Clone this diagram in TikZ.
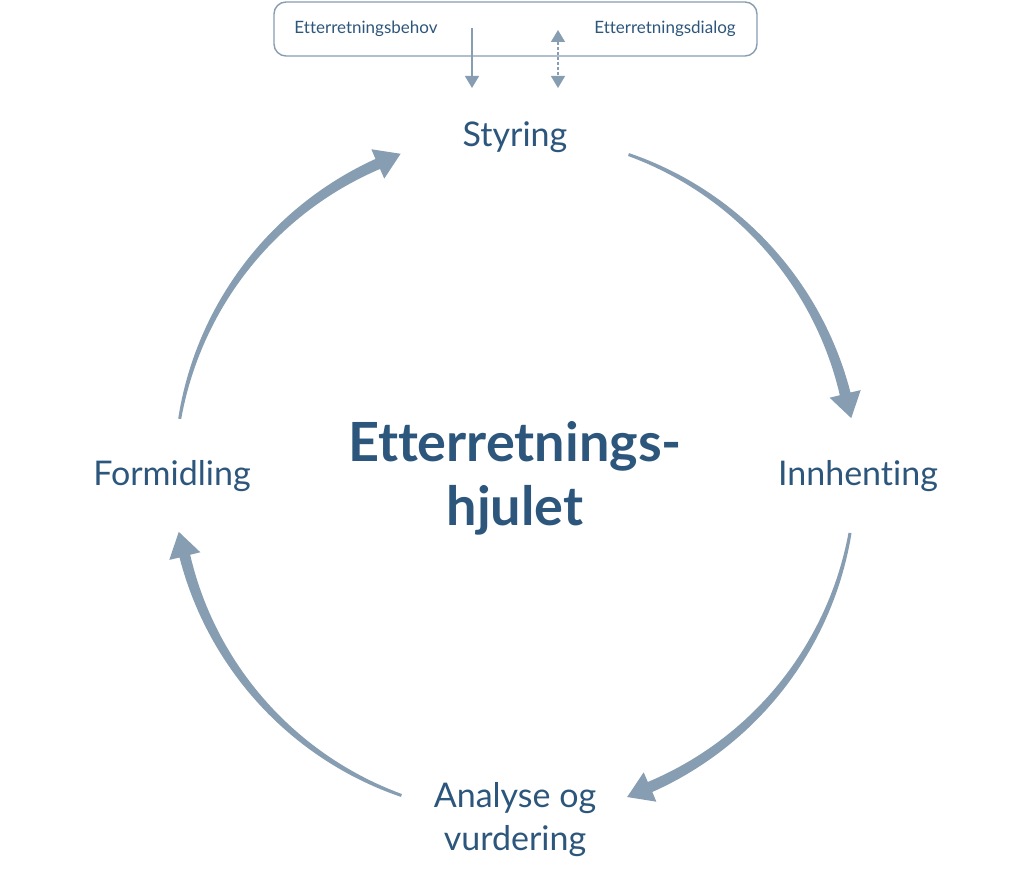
\documentclass[tikz,border=0pt]{standalone}
\usepackage{fontspec}
\setmainfont{Lato}[Ligatures=NoCommon]
\usetikzlibrary{arrows.meta}
\definecolor{txtc}{RGB}{45,86,124}
\definecolor{arrc}{RGB}{135,157,178}
\newcommand\wheelarrow[3]{% start angle, head-base angle, tip angle
  \fill[arrc] plot[domain=0:1,samples=50] ({(340+1.5+4*\x)*cos(#1+(#2-#1)*\x)},{(340+1.5+4*\x)*sin(#1+(#2-#1)*\x)})
    -- ({356*cos(#2)},{356*sin(#2)}) -- ({341*cos(#3)},{341*sin(#3)}) -- ({324*cos(#2)},{324*sin(#2)})
    -- plot[domain=0:1,samples=50] ({(340-5.5+4*\x)*cos(#2+(#1-#2)*\x)},{(340-5.5+4*\x)*sin(#2+(#1-#2)*\x)}) -- cycle;}
\begin{document}
\begin{tikzpicture}[x=1pt,y=1pt,
  lbl/.style={text=txtc,font=\fontsize{34}{43}\selectfont,align=center,inner sep=0pt},
  small/.style={text=txtc,font=\fontsize{17}{20}\selectfont,inner sep=0pt},
  title/.style={text=txtc,font=\bfseries\fontsize{54}{64}\selectfont,align=center,inner sep=0pt},
  smallarrow/.style={draw=arrc,line width=1.4pt}]
\useasboundingbox (-515,-405) rectangle (517,475);
\node[draw=arrc,line width=1.4pt,rounded corners=12pt,minimum width=483pt,minimum height=54pt,inner sep=0pt] (box) at (0.5,446) {};
\node[small] (behov) at (-149,446) {Etterretningsbehov};
\node[small] (dialog) at (150,446) {Etterretningsdialog};
\coordinate (b1) at (-43,447);
\coordinate (b2) at (-43,387);
\coordinate (d1) at (43,445);
\coordinate (d2) at (43,387);
\draw[smallarrow,-{Triangle[width=14pt,length=12pt]}] (b1) -- (b2);
\draw[smallarrow,dash pattern=on 3pt off 2pt,{Triangle[width=14pt,length=12pt]}-{Triangle[width=14pt,length=12pt]}] (d1) -- (d2);
\node[lbl] (styring) at (0,338) {Styring};
\node[lbl] (innhenting) at (343,-1) {Innhenting};
\node[lbl] (analyse) at (0,-345) {Analyse og\\vurdering};
\node[lbl] (formidling) at (-343,-1) {Formidling};
\node[title] (hjul) at (0,-3) {Etterretnings-\\hjulet};
\wheelarrow{70.5}{13.8}{9.6}
\wheelarrow{-9.8}{-66.6}{-70.8}
\wheelarrow{-109.5}{-166.2}{-170.4}
\wheelarrow{170.5}{113.8}{109.6}
\end{tikzpicture}
\end{document}
